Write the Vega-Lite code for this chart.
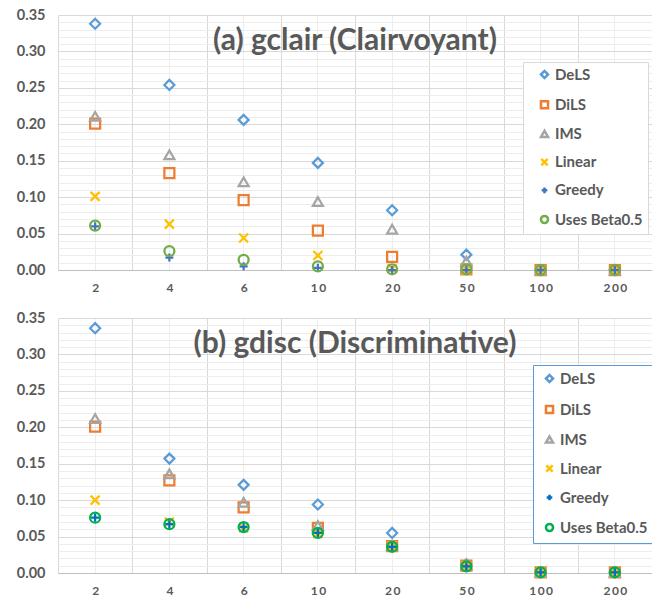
{
  "$schema": "https://vega.github.io/schema/vega-lite/v6.json",
  "padding": {"left": 16, "top": 7, "right": 0, "bottom": 0},
  "background": "white",
  "data": {"values": [
    {"panel": "a", "method": "DeLS", "n": "2", "v": 0.338},
    {"panel": "a", "method": "DeLS", "n": "4", "v": 0.254},
    {"panel": "a", "method": "DeLS", "n": "6", "v": 0.206},
    {"panel": "a", "method": "DeLS", "n": "10", "v": 0.147},
    {"panel": "a", "method": "DeLS", "n": "20", "v": 0.082},
    {"panel": "a", "method": "DeLS", "n": "50", "v": 0.021},
    {"panel": "a", "method": "DeLS", "n": "100", "v": 0.0},
    {"panel": "a", "method": "DeLS", "n": "200", "v": 0.0},
    {"panel": "a", "method": "DiLS", "n": "2", "v": 0.201},
    {"panel": "a", "method": "DiLS", "n": "4", "v": 0.133},
    {"panel": "a", "method": "DiLS", "n": "6", "v": 0.096},
    {"panel": "a", "method": "DiLS", "n": "10", "v": 0.054},
    {"panel": "a", "method": "DiLS", "n": "20", "v": 0.018},
    {"panel": "a", "method": "DiLS", "n": "50", "v": 0.001},
    {"panel": "a", "method": "DiLS", "n": "100", "v": 0.0},
    {"panel": "a", "method": "DiLS", "n": "200", "v": 0.0},
    {"panel": "a", "method": "IMS", "n": "2", "v": 0.211},
    {"panel": "a", "method": "IMS", "n": "4", "v": 0.158},
    {"panel": "a", "method": "IMS", "n": "6", "v": 0.121},
    {"panel": "a", "method": "IMS", "n": "10", "v": 0.094},
    {"panel": "a", "method": "IMS", "n": "20", "v": 0.056},
    {"panel": "a", "method": "IMS", "n": "50", "v": 0.012},
    {"panel": "a", "method": "IMS", "n": "100", "v": 0.0},
    {"panel": "a", "method": "IMS", "n": "200", "v": 0.0},
    {"panel": "a", "method": "Linear", "n": "2", "v": 0.101},
    {"panel": "a", "method": "Linear", "n": "4", "v": 0.063},
    {"panel": "a", "method": "Linear", "n": "6", "v": 0.044},
    {"panel": "a", "method": "Linear", "n": "10", "v": 0.020},
    {"panel": "a", "method": "Linear", "n": "20", "v": 0.002},
    {"panel": "a", "method": "Linear", "n": "50", "v": 0.0},
    {"panel": "a", "method": "Linear", "n": "100", "v": 0.0},
    {"panel": "a", "method": "Linear", "n": "200", "v": 0.0},
    {"panel": "a", "method": "Greedy", "n": "2", "v": 0.060},
    {"panel": "a", "method": "Greedy", "n": "4", "v": 0.017},
    {"panel": "a", "method": "Greedy", "n": "6", "v": 0.005},
    {"panel": "a", "method": "Greedy", "n": "10", "v": 0.003},
    {"panel": "a", "method": "Greedy", "n": "20", "v": 0.0},
    {"panel": "a", "method": "Greedy", "n": "50", "v": 0.0},
    {"panel": "a", "method": "Greedy", "n": "100", "v": 0.0},
    {"panel": "a", "method": "Greedy", "n": "200", "v": 0.0},
    {"panel": "a", "method": "Uses Beta0.5", "n": "2", "v": 0.061},
    {"panel": "a", "method": "Uses Beta0.5", "n": "4", "v": 0.026},
    {"panel": "a", "method": "Uses Beta0.5", "n": "6", "v": 0.014},
    {"panel": "a", "method": "Uses Beta0.5", "n": "10", "v": 0.005},
    {"panel": "a", "method": "Uses Beta0.5", "n": "20", "v": 0.001},
    {"panel": "a", "method": "Uses Beta0.5", "n": "50", "v": 0.001},
    {"panel": "a", "method": "Uses Beta0.5", "n": "100", "v": 0.0},
    {"panel": "a", "method": "Uses Beta0.5", "n": "200", "v": 0.0},
    {"panel": "b", "method": "DeLS", "n": "2", "v": 0.336},
    {"panel": "b", "method": "DeLS", "n": "4", "v": 0.157},
    {"panel": "b", "method": "DeLS", "n": "6", "v": 0.121},
    {"panel": "b", "method": "DeLS", "n": "10", "v": 0.094},
    {"panel": "b", "method": "DeLS", "n": "20", "v": 0.055},
    {"panel": "b", "method": "DeLS", "n": "50", "v": 0.012},
    {"panel": "b", "method": "DeLS", "n": "100", "v": 0.001},
    {"panel": "b", "method": "DeLS", "n": "200", "v": 0.001},
    {"panel": "b", "method": "DiLS", "n": "2", "v": 0.201},
    {"panel": "b", "method": "DiLS", "n": "4", "v": 0.127},
    {"panel": "b", "method": "DiLS", "n": "6", "v": 0.090},
    {"panel": "b", "method": "DiLS", "n": "10", "v": 0.062},
    {"panel": "b", "method": "DiLS", "n": "20", "v": 0.037},
    {"panel": "b", "method": "DiLS", "n": "50", "v": 0.010},
    {"panel": "b", "method": "DiLS", "n": "100", "v": 0.001},
    {"panel": "b", "method": "DiLS", "n": "200", "v": 0.001},
    {"panel": "b", "method": "IMS", "n": "2", "v": 0.212},
    {"panel": "b", "method": "IMS", "n": "4", "v": 0.136},
    {"panel": "b", "method": "IMS", "n": "6", "v": 0.097},
    {"panel": "b", "method": "IMS", "n": "10", "v": 0.065},
    {"panel": "b", "method": "IMS", "n": "20", "v": 0.038},
    {"panel": "b", "method": "IMS", "n": "50", "v": 0.011},
    {"panel": "b", "method": "IMS", "n": "100", "v": 0.001},
    {"panel": "b", "method": "IMS", "n": "200", "v": 0.001},
    {"panel": "b", "method": "Linear", "n": "2", "v": 0.100},
    {"panel": "b", "method": "Linear", "n": "4", "v": 0.070},
    {"panel": "b", "method": "Linear", "n": "6", "v": 0.062},
    {"panel": "b", "method": "Linear", "n": "10", "v": 0.054},
    {"panel": "b", "method": "Linear", "n": "20", "v": 0.037},
    {"panel": "b", "method": "Linear", "n": "50", "v": 0.010},
    {"panel": "b", "method": "Linear", "n": "100", "v": 0.001},
    {"panel": "b", "method": "Linear", "n": "200", "v": 0.001},
    {"panel": "b", "method": "Greedy", "n": "2", "v": 0.076},
    {"panel": "b", "method": "Greedy", "n": "4", "v": 0.067},
    {"panel": "b", "method": "Greedy", "n": "6", "v": 0.063},
    {"panel": "b", "method": "Greedy", "n": "10", "v": 0.055},
    {"panel": "b", "method": "Greedy", "n": "20", "v": 0.036},
    {"panel": "b", "method": "Greedy", "n": "50", "v": 0.009},
    {"panel": "b", "method": "Greedy", "n": "100", "v": 0.001},
    {"panel": "b", "method": "Greedy", "n": "200", "v": 0.001},
    {"panel": "b", "method": "Uses Beta0.5", "n": "2", "v": 0.076},
    {"panel": "b", "method": "Uses Beta0.5", "n": "4", "v": 0.067},
    {"panel": "b", "method": "Uses Beta0.5", "n": "6", "v": 0.063},
    {"panel": "b", "method": "Uses Beta0.5", "n": "10", "v": 0.055},
    {"panel": "b", "method": "Uses Beta0.5", "n": "20", "v": 0.036},
    {"panel": "b", "method": "Uses Beta0.5", "n": "50", "v": 0.009},
    {"panel": "b", "method": "Uses Beta0.5", "n": "100", "v": 0.001},
    {"panel": "b", "method": "Uses Beta0.5", "n": "200", "v": 0.001}
  ]},
  "vconcat": [
    {
      "title": {"text": "(a) gclair (Clairvoyant)", "fontSize": 30, "font": "Lato", "fontWeight": "bold", "color": "#595959", "anchor": "middle", "baseline": "alphabetic", "offset": -73},
      "width": 594, "height": 255,
      "transform": [{"filter": "datum.panel == 'a'"}],
      "encoding": {
        "y": {"field": "v", "type": "quantitative", "scale": {"domain": [0, 0.35]},
          "axis": {"title": null, "values": [0,0.01,0.02,0.03,0.04,0.05,0.06,0.07,0.08,0.09,0.1,0.11,0.12,0.13,0.14,0.15,0.16,0.17,0.18,0.19,0.2,0.21,0.22,0.23,0.24,0.25,0.26,0.27,0.28,0.29,0.3,0.31,0.32,0.33,0.34,0.35],
            "grid": true, "gridColor": {"condition": {"test": "round(datum.value*100) % 5 == 0", "value": "#D9D9D9"}, "value": "#EDEDED"},
            "labelExpr": "round(datum.value*100) % 5 == 0 ? format(datum.value, '.2f') : ''", "labelOverlap": false,
            "domain": false, "ticks": false, "labelPadding": 13, "labelFontSize": 14.5, "labelFontWeight": "bold", "labelColor": "#595959"}}
      },
      "layer": [
        {
          "mark": {"type": "point", "opacity": 0},
          "encoding": {
            "x": {"field": "n", "type": "ordinal", "sort": ["2","4","6","10","20","50","100","200"],
              "axis": {"orient": "bottom", "title": null, "labels": false, "ticks": false, "domain": false, "grid": true, "gridColor": "#EDEDED", "tickBand": "center"}}
          }
        },
        {
          "mark": {"type": "point", "filled": false, "strokeWidth": 2.25, "size": 100, "opacity": 1},
          "encoding": {
            "x": {"field": "n", "type": "ordinal", "sort": ["2","4","6","10","20","50","100","200"],
              "axis": {"orient": "bottom", "title": null, "tickBand": "extent", "grid": true, "gridColor": "#D9D9D9", "ticks": false, "domainColor": "#BFBFBF", "labelAngle": 0, "labelFontSize": 12, "labelFontWeight": "bold", "labelColor": "#595959", "labelPadding": 12, "labelExpr": "join(split(datum.label, ''), '\u2009')"}},
            "color": {"field": "method", "type": "nominal",
              "scale": {"domain": ["DeLS","DiLS","IMS","Linear","Greedy","Uses Beta0.5"], "range": ["#5B9BD5","#ED7D31","#A5A5A5","#FFC000","#4472C4","#70AD47"]},
              "legend": {"orient": "none", "legendX": 465, "legendY": 47, "title": null, "fillColor": "white", "strokeColor": "#D9D9D9", "padding": 5, "symbolOffset": 9, "symbolSize": 50, "symbolStrokeWidth": 2.5, "labelFontSize": 15, "labelFontWeight": "bold", "labelColor": "#595959", "rowPadding": 11.2, "labelOffset": 3}},
            "shape": {"field": "method", "type": "nominal",
              "scale": {"domain": ["DeLS","DiLS","IMS","Linear","Greedy","Uses Beta0.5"], "range": ["diamond","square","triangle-up","M-0.9,-0.9L0.9,0.9M-0.9,0.9L0.9,-0.9","M-0.8,0L0.8,0M0,-0.8L0,0.8","circle"]},
              "legend": {"orient": "none", "legendX": 465, "legendY": 47, "title": null, "fillColor": "white", "strokeColor": "#D9D9D9", "padding": 5, "symbolOffset": 9, "symbolSize": 50, "symbolStrokeWidth": 2.5, "labelFontSize": 15, "labelFontWeight": "bold", "labelColor": "#595959", "rowPadding": 11.2, "labelOffset": 3}}
          }
        }
      ],
      "resolve": {"axis": {"x": "independent"}}
    },
    {
      "title": {"text": "(b) gdisc (Discriminative)", "fontSize": 30, "font": "Lato", "fontWeight": "bold", "color": "#595959", "anchor": "middle", "baseline": "alphabetic", "offset": -73},
      "width": 594, "height": 255,
      "transform": [{"filter": "datum.panel == 'b'"}],
      "encoding": {
        "y": {"field": "v", "type": "quantitative", "scale": {"domain": [0, 0.35]},
          "axis": {"title": null, "values": [0,0.01,0.02,0.03,0.04,0.05,0.06,0.07,0.08,0.09,0.1,0.11,0.12,0.13,0.14,0.15,0.16,0.17,0.18,0.19,0.2,0.21,0.22,0.23,0.24,0.25,0.26,0.27,0.28,0.29,0.3,0.31,0.32,0.33,0.34,0.35],
            "grid": true, "gridColor": {"condition": {"test": "round(datum.value*100) % 5 == 0", "value": "#D9D9D9"}, "value": "#EDEDED"},
            "labelExpr": "round(datum.value*100) % 5 == 0 ? format(datum.value, '.2f') : ''", "labelOverlap": false,
            "domain": false, "ticks": false, "labelPadding": 13, "labelFontSize": 14.5, "labelFontWeight": "bold", "labelColor": "#595959"}}
      },
      "layer": [
        {
          "mark": {"type": "point", "opacity": 0},
          "encoding": {
            "x": {"field": "n", "type": "ordinal", "sort": ["2","4","6","10","20","50","100","200"],
              "axis": {"orient": "bottom", "title": null, "labels": false, "ticks": false, "domain": false, "grid": true, "gridColor": "#EDEDED", "tickBand": "center"}}
          }
        },
        {
          "mark": {"type": "point", "filled": false, "strokeWidth": 2.25, "size": 100, "opacity": 1},
          "encoding": {
            "x": {"field": "n", "type": "ordinal", "sort": ["2","4","6","10","20","50","100","200"],
              "axis": {"orient": "bottom", "title": null, "tickBand": "extent", "grid": true, "gridColor": "#D9D9D9", "ticks": false, "domainColor": "#BFBFBF", "labelAngle": 0, "labelFontSize": 12, "labelFontWeight": "bold", "labelColor": "#595959", "labelPadding": 12, "labelExpr": "join(split(datum.label, ''), '\u2009')"}},
            "color": {"field": "method", "type": "nominal",
              "scale": {"domain": ["DeLS","DiLS","IMS","Linear","Greedy","Uses Beta0.5"], "range": ["#5B9BD5","#ED7D31","#A5A5A5","#FFC000","#0070C0","#00B050"]},
              "legend": {"orient": "none", "legendX": 475, "legendY": 47, "title": null, "fillColor": "white", "strokeColor": "#5B9BD5", "padding": 6, "symbolOffset": 3, "symbolSize": 50, "symbolStrokeWidth": 2.5, "labelFontSize": 15, "labelFontWeight": "bold", "labelColor": "#595959", "rowPadding": 12, "labelOffset": 3}},
            "shape": {"field": "method", "type": "nominal",
              "scale": {"domain": ["DeLS","DiLS","IMS","Linear","Greedy","Uses Beta0.5"], "range": ["diamond","square","triangle-up","M-0.9,-0.9L0.9,0.9M-0.9,0.9L0.9,-0.9","M-0.8,0L0.8,0M0,-0.8L0,0.8","circle"]},
              "legend": {"orient": "none", "legendX": 475, "legendY": 47, "title": null, "fillColor": "white", "strokeColor": "#5B9BD5", "padding": 6, "symbolOffset": 3, "symbolSize": 50, "symbolStrokeWidth": 2.5, "labelFontSize": 15, "labelFontWeight": "bold", "labelColor": "#595959", "rowPadding": 12, "labelOffset": 3}}
          }
        }
      ],
      "resolve": {"axis": {"x": "independent"}}
    }
  ],
  "spacing": 48,
  "bounds": "flush",
  "resolve": {"scale": {"color": "independent", "shape": "independent", "x": "independent", "y": "independent"}, "legend": {"color": "independent", "shape": "independent"}},
  "config": {"font": "Lato", "view": {"stroke": null}}
}
